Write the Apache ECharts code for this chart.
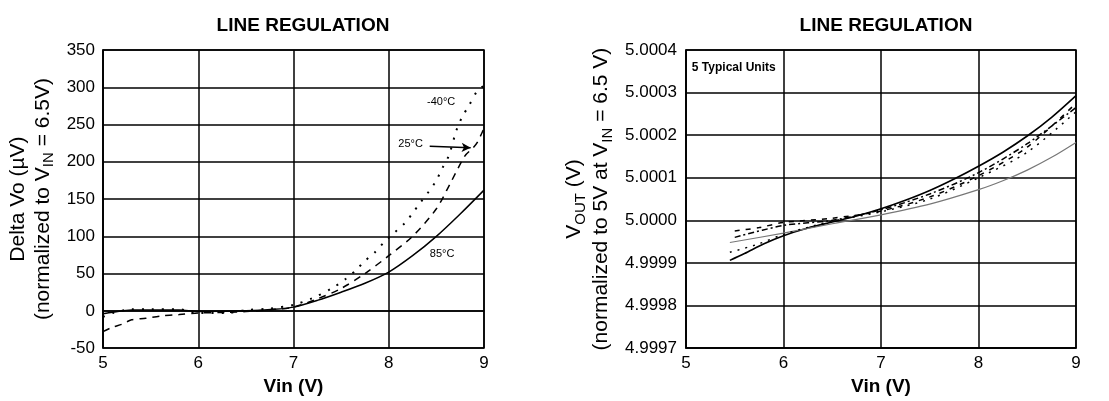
<!DOCTYPE html>
<html>
<head>
<meta charset="utf-8">
<script src="https://cdn.jsdelivr.net/npm/echarts@6/dist/echarts.min.js"></script>
<style>
html,body{margin:0;padding:0;background:#fff;}
#c{width:1109px;height:401px;}
</style>
</head>
<body>
<div id="c"></div>
<script>
// ---------- Left chart: Delta Vo (µV) vs Vin ----------
const leftXTicks = [5, 6, 7, 8, 9];
const leftYTicks = [-50, 0, 50, 100, 150, 200, 250, 300, 350];
const t85 = [[5.0,-4],[5.1,-2],[5.3,1],[5.6,1],[5.8,1],[6.0,-1],[6.5,0],[6.8,2],[7.0,5],[7.25,14],[7.5,25],[7.75,37],[8.0,52],[8.25,74],[8.5,100],[8.75,130],[9.0,162]];
const t25 = [[5.0,-28],[5.1,-22],[5.2,-18],[5.3,-12],[5.45,-10],[5.6,-7],[5.8,-5],[6.0,-3],[6.3,-2],[6.5,-1],[6.8,2],[7.0,5],[7.25,16],[7.5,30],[7.75,50],[8.0,74],[8.25,100],[8.5,137],[8.65,172],[8.8,208],[8.88,218],[8.93,226],[9.0,245]];
const tm40 = [[5.0,-8],[5.1,-3],[5.3,2],[5.5,2],[5.8,2],[6.0,-3],[6.3,-3],[6.5,1],[6.75,3],[7.0,8],[7.2,17],[7.4,30],[7.55,43],[7.65,54],[7.75,67],[7.85,78],[7.95,92],[8.06,105],[8.17,118],[8.25,131],[8.33,145],[8.42,160],[8.5,175],[8.56,191],[8.63,208],[8.71,242],[8.77,260],[8.84,275],[8.93,295],[9.0,302]];
const leftLabels = [{name:'-40°C', coord:[8.55,280]}, {name:'25°C', coord:[8.23,224]}, {name:'85°C', coord:[8.56,76]}];
const arrow25 = [[8.43,221],[8.86,219]];

// ---------- Right chart: VOUT (V) vs Vin, 5 typical units ----------
const rightXTicks = [5, 6, 7, 8, 9];
const rightYTicks = [4.9997, 4.9998, 4.9999, 5.0000, 5.0001, 5.0002, 5.0003, 5.0004];
const unitA = [[5.45,4.999906],[5.6,4.999922],[5.8,4.999945],[6.0,4.999964],[6.25,4.999982],[6.5,4.999996],[6.75,5.000010],[7.0,5.000027],[7.25,5.000047],[7.5,5.000070],[7.75,5.000097],[8.0,5.000127],[8.25,5.000160],[8.5,5.000198],[8.75,5.000242],[9.0,5.000293]];
const unitB = [[5.45,4.999948],[6.0,4.999970],[6.5,4.999992],[7.0,5.000013],[7.5,5.000038],[8.0,5.000072],[8.25,5.000093],[8.5,5.000118],[8.75,5.000148],[9.0,5.000183]];
const unitC = [[5.5,4.999975],[5.75,4.999983],[6.0,4.999995],[6.5,5.000005],[7.0,5.000022],[7.5,5.000055],[8.0,5.000105],[8.5,5.000172],[9.0,5.000275]];
const unitD = [[5.45,4.999925],[5.75,4.999945],[6.0,4.999967],[6.5,4.999998],[7.0,5.000020],[7.5,5.000050],[8.0,5.000100],[8.5,5.000160],[9.0,5.000255]];
const unitE = [[5.5,4.999960],[6.0,4.999988],[6.5,5.000000],[7.0,5.000025],[7.5,5.000062],[8.0,5.000112],[8.5,5.000180],[9.0,5.000265]];
const rightNote = {name:'5 Typical Units', coord:[5.06,5.000358]};

const FONT = 'Liberation Sans, Arial, sans-serif';
const chart = echarts.init(document.getElementById('c'));

function xAxisDef(gridIndex){
  return {
    type:'value', gridIndex, min:5, max:9, interval:1,
    name:'Vin (V)', nameLocation:'middle', nameGap:28,
    nameTextStyle:{fontFamily:FONT, fontSize:19, fontWeight:'bold', color:'#000'},
    axisLine:{show:true, lineStyle:{color:'#000', width:1.5}},
    axisTick:{show:false},
    axisLabel:{fontFamily:FONT, fontSize:17, color:'#000', margin:7},
    splitLine:{show:true, lineStyle:{color:'#000', width:1.5}}
  };
}

const lineBase = {type:'line', showSymbol:false, symbol:'none', smooth:0.3, animation:false, silent:true};

chart.setOption({
  animation:false,
  title:[
    {text:'LINE REGULATION', left:298, top:11, textAlign:'center', textStyle:{fontFamily:FONT, fontSize:19, fontWeight:'bold', color:'#000'}},
    {text:'LINE REGULATION', left:881, top:11, textAlign:'center', textStyle:{fontFamily:FONT, fontSize:19, fontWeight:'bold', color:'#000'}}
  ],
  grid:[
    {left:103, right:625, top:50, bottom:52, show:true, borderColor:'#000', borderWidth:1.5, backgroundColor:'#fff'},
    {left:686, right:33, top:50, bottom:52, show:true, borderColor:'#000', borderWidth:1.5, backgroundColor:'#fff'}
  ],
  xAxis:[xAxisDef(0), xAxisDef(1)],
  yAxis:[
    {
      type:'value', gridIndex:0, min:-50, max:350, interval:50,
      name:'{a|Delta Vo (µV)}\n{a|(normalized to V}{s|IN}{a| = 6.5V)}',
      nameLocation:'middle', nameGap:47, nameRotate:90,
      nameTextStyle:{fontFamily:FONT, color:'#000', rich:{
        a:{fontFamily:FONT, fontSize:21, color:'#000', lineHeight:25},
        s:{fontFamily:FONT, fontSize:15, color:'#000', lineHeight:15, padding:[10,0,0,0]}
      }},
      axisLine:{show:true, lineStyle:{color:'#000', width:1.5}},
      axisTick:{show:false},
      axisLabel:{fontFamily:FONT, fontSize:17, color:'#000', margin:8},
      splitLine:{show:true, lineStyle:{color:'#000', width:1.5}}
    },
    {
      type:'value', gridIndex:1, min:4.9997, max:5.0004, interval:0.0001,
      name:'{a|V}{s|OUT}{a| (V)}\n{a|(normalized to 5V at V}{s|IN}{a| = 6.5 V)}',
      nameLocation:'middle', nameGap:71, nameRotate:90,
      nameTextStyle:{fontFamily:FONT, color:'#000', rich:{
        a:{fontFamily:FONT, fontSize:21, color:'#000', lineHeight:27},
        s:{fontFamily:FONT, fontSize:15, color:'#000', lineHeight:15, padding:[12,0,0,0]}
      }},
      axisLine:{show:true, lineStyle:{color:'#000', width:1.5}},
      axisTick:{show:false},
      axisLabel:{fontFamily:FONT, fontSize:17, color:'#000', margin:9, formatter:v=>v.toFixed(4)},
      splitLine:{show:true, lineStyle:{color:'#000', width:1.5}}
    }
  ],
  series:[
    Object.assign({}, lineBase, {name:'85°C', xAxisIndex:0, yAxisIndex:0, data:t85, lineStyle:{color:'#000', width:1.5},
      markPoint:{symbol:'rect', symbolSize:0, silent:true, animation:false,
        label:{show:true, formatter:'{b}', fontFamily:FONT, fontSize:11, color:'#000', letterSpacing:-0.5},
        data:leftLabels.map(d=>({name:d.name, coord:d.coord}))}}),
    Object.assign({}, lineBase, {name:'25°C', xAxisIndex:0, yAxisIndex:0, data:t25, lineStyle:{color:'#000', width:1.5, type:[7,6]},
      markLine:{silent:true, animation:false, symbol:['none','arrow'], symbolSize:[7,9], label:{show:false},
        lineStyle:{color:'#000', width:1.5, type:'solid'},
        data:[[{coord:arrow25[0]},{coord:arrow25[1]}]]}}),
    Object.assign({}, lineBase, {name:'-40°C', xAxisIndex:0, yAxisIndex:0, data:tm40, lineStyle:{color:'#000', width:2, type:[2,8]}}),

    Object.assign({}, lineBase, {name:'Unit A', xAxisIndex:1, yAxisIndex:1, data:unitA, lineStyle:{color:'#000', width:1.6},
      markPoint:{symbol:'rect', symbolSize:0, silent:true, animation:false,
        label:{show:true, position:'right', distance:0, formatter:'{b}', fontFamily:FONT, fontSize:12, color:'#000', fontWeight:'bold', letterSpacing:-0.4},
        data:[{name:rightNote.name, coord:rightNote.coord}]}}),
    Object.assign({}, lineBase, {name:'Unit B', xAxisIndex:1, yAxisIndex:1, data:unitB, lineStyle:{color:'#777', width:1.2}}),
    Object.assign({}, lineBase, {name:'Unit C', xAxisIndex:1, yAxisIndex:1, data:unitC, lineStyle:{color:'#000', width:1.5, type:[5,6]}}),
    Object.assign({}, lineBase, {name:'Unit D', xAxisIndex:1, yAxisIndex:1, data:unitD, lineStyle:{color:'#000', width:1.5, type:[2,6]}}),
    Object.assign({}, lineBase, {name:'Unit E', xAxisIndex:1, yAxisIndex:1, data:unitE, lineStyle:{color:'#000', width:1.5, type:[6,3,2,3]}})
  ]
});
</script>
</body>
</html>
